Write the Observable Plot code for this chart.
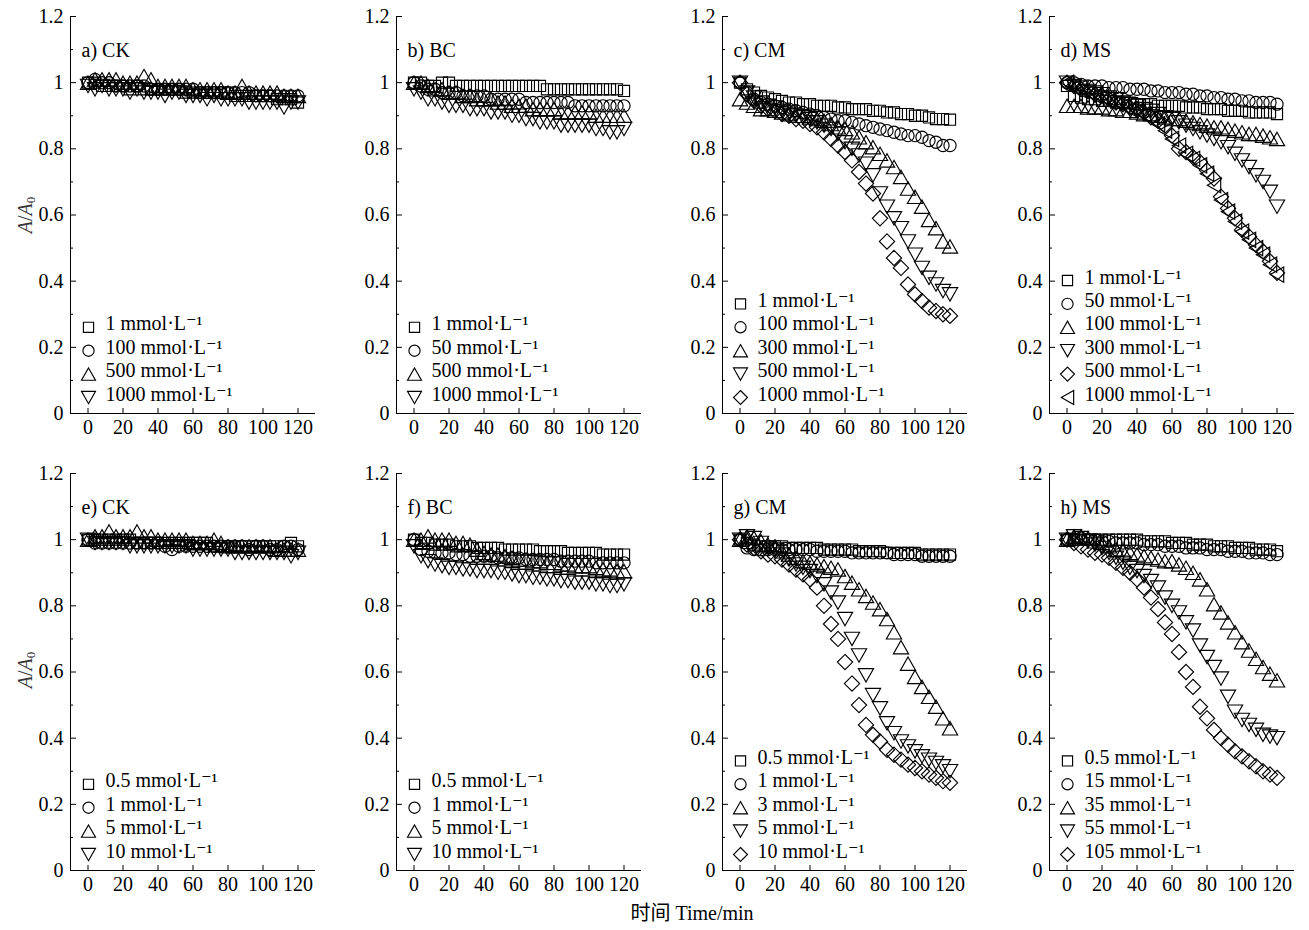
<!DOCTYPE html>
<html>
<head>
<meta charset="utf-8">
<script src="https://cdn.jsdelivr.net/npm/d3@7"></script>
<script src="https://cdn.jsdelivr.net/npm/@observablehq/plot@0.6"></script>
<style>
  body { margin: 0; background: #fff; }
  #fig { position: relative; width: 1309px; height: 930px; background: #fff; color: #000;
         font-family: 'Liberation Serif', 'Noto Sans CJK SC', serif; }
  .ylab { position: absolute; width: 120px; height: 24px; line-height: 24px; text-align: center;
          font-size: 20px; transform: rotate(-90deg); color: #333; white-space: nowrap; }
  .ylab sub { font-size: 13px; font-style: normal; vertical-align: -3px; line-height: 0; }
  .xlab { position: absolute; left: 542px; width: 300px; top: 901px; height: 24px; line-height: 24px;
          text-align: center; font-size: 20px; white-space: nowrap; }
</style>
</head>
<body>
<div id="fig"></div>
<script>
// ---- axes / ticks ----
const time = [0,4,8,12,16,20,24,28,32,36,40,44,48,52,56,60,64,68,72,76,80,84,88,92,96,100,104,108,112,116,120];
const xTicks = [0,20,40,60,80,100,120];
const yTicks = [0,0.2,0.4,0.6,0.8,1,1.2];
const yMinorTicks = [0.1,0.3,0.5,0.7,0.9,1.1];
const xDomain = [-10,130];
const yDomain = [0,1.2];

// ---- a) CK ----
const a1 = [1.00,1.00,0.99,0.99,0.99,0.99,0.98,0.99,0.98,0.98,0.98,0.98,0.98,0.98,0.97,0.97,0.97,0.97,0.97,0.97,0.97,0.96,0.96,0.96,0.96,0.96,0.96,0.95,0.95,0.95,0.94];
const a2 = [1.00,1.01,1.00,1.00,0.99,0.99,0.99,0.99,0.99,0.98,0.98,0.98,0.98,0.98,0.98,0.98,0.97,0.97,0.97,0.97,0.97,0.97,0.97,0.97,0.96,0.96,0.96,0.96,0.96,0.96,0.96];
const a3 = [1.00,1.01,1.01,1.01,1.01,1.00,1.00,1.00,1.02,1.01,0.99,0.99,0.99,0.99,0.99,0.98,0.98,0.98,0.98,0.98,0.97,0.97,0.99,0.97,0.97,0.97,0.97,0.97,0.96,0.96,0.96];
const a4 = [0.99,0.98,0.99,0.98,0.98,0.98,0.97,0.98,0.97,0.97,0.97,0.96,0.97,0.97,0.96,0.96,0.96,0.95,0.96,0.95,0.95,0.95,0.95,0.94,0.94,0.94,0.94,0.94,0.925,0.94,0.94];
// ---- b) BC ----
const b1 = [1.00,1.00,0.99,0.99,1.00,1.00,0.99,0.99,0.99,0.99,0.99,0.99,0.99,0.99,0.99,0.99,0.99,0.99,0.99,0.98,0.98,0.98,0.98,0.98,0.98,0.98,0.98,0.98,0.98,0.98,0.975];
const b2 = [1.00,0.99,0.98,0.98,0.97,0.97,0.97,0.96,0.96,0.96,0.96,0.95,0.95,0.95,0.95,0.95,0.94,0.94,0.94,0.94,0.94,0.94,0.94,0.93,0.93,0.93,0.93,0.93,0.93,0.93,0.93];
const b3 = [1.00,1.00,0.99,0.98,0.98,0.97,0.97,0.96,0.96,0.95,0.95,0.95,0.94,0.94,0.93,0.93,0.93,0.92,0.92,0.92,0.92,0.91,0.91,0.91,0.91,0.91,0.90,0.90,0.90,0.90,0.90];
const b4 = [0.98,0.97,0.95,0.95,0.94,0.93,0.93,0.93,0.92,0.92,0.92,0.91,0.91,0.91,0.90,0.90,0.89,0.89,0.88,0.88,0.88,0.87,0.87,0.87,0.87,0.87,0.86,0.86,0.85,0.85,0.86];
// ---- c) CM ----
const c1 = [1.00,0.98,0.97,0.96,0.955,0.95,0.945,0.94,0.94,0.935,0.935,0.93,0.93,0.93,0.925,0.925,0.92,0.92,0.92,0.915,0.915,0.91,0.91,0.905,0.905,0.90,0.90,0.895,0.89,0.89,0.888];
const c2 = [1.00,0.97,0.95,0.94,0.935,0.93,0.925,0.92,0.915,0.91,0.905,0.90,0.895,0.89,0.885,0.885,0.88,0.875,0.87,0.865,0.86,0.855,0.85,0.845,0.84,0.84,0.835,0.825,0.82,0.81,0.81];
const c3 = [0.95,0.94,0.93,0.92,0.92,0.915,0.91,0.905,0.90,0.90,0.895,0.89,0.885,0.875,0.865,0.86,0.85,0.835,0.82,0.805,0.785,0.765,0.745,0.715,0.68,0.655,0.625,0.585,0.56,0.52,0.505];
const c4 = [1.00,0.97,0.955,0.94,0.93,0.925,0.915,0.91,0.90,0.895,0.89,0.88,0.87,0.86,0.845,0.82,0.80,0.78,0.755,0.72,0.665,0.625,0.59,0.56,0.52,0.48,0.44,0.41,0.39,0.37,0.36];
const c5 = [1.00,0.965,0.945,0.93,0.92,0.915,0.905,0.90,0.89,0.885,0.875,0.865,0.85,0.83,0.81,0.79,0.765,0.73,0.695,0.665,0.59,0.52,0.47,0.44,0.39,0.36,0.34,0.32,0.31,0.30,0.295];
// ---- d) MS ----
const d1 = [0.99,0.96,0.955,0.95,0.95,0.945,0.945,0.94,0.94,0.94,0.935,0.935,0.935,0.93,0.93,0.93,0.93,0.925,0.925,0.925,0.92,0.92,0.92,0.915,0.915,0.915,0.91,0.91,0.91,0.91,0.905];
const d2 = [1.00,1.00,0.995,0.99,0.99,0.99,0.985,0.985,0.985,0.98,0.98,0.98,0.975,0.975,0.97,0.97,0.97,0.965,0.965,0.96,0.96,0.955,0.955,0.95,0.95,0.945,0.945,0.94,0.94,0.94,0.935];
const d3 = [0.93,0.93,0.93,0.925,0.925,0.925,0.92,0.92,0.915,0.915,0.91,0.905,0.905,0.90,0.895,0.89,0.89,0.885,0.88,0.875,0.87,0.865,0.865,0.86,0.855,0.85,0.845,0.845,0.84,0.835,0.83];
const d4 = [1.00,0.99,0.985,0.975,0.97,0.965,0.955,0.95,0.94,0.935,0.93,0.92,0.915,0.905,0.895,0.89,0.88,0.87,0.86,0.85,0.84,0.83,0.82,0.805,0.785,0.765,0.745,0.72,0.70,0.67,0.625];
const d5 = [1.00,0.99,0.98,0.975,0.965,0.96,0.95,0.94,0.935,0.925,0.92,0.91,0.895,0.885,0.87,0.84,0.80,0.79,0.775,0.76,0.735,0.71,0.655,0.62,0.59,0.555,0.535,0.51,0.49,0.46,0.425];
const d6 = [1.00,0.985,0.975,0.97,0.96,0.955,0.945,0.94,0.93,0.92,0.915,0.905,0.89,0.875,0.855,0.83,0.81,0.785,0.77,0.75,0.725,0.69,0.645,0.61,0.58,0.55,0.525,0.50,0.48,0.45,0.42];
// ---- e) CK ----
const e1 = [1.00,1.00,1.00,1.00,1.00,1.00,1.00,0.99,0.99,0.99,0.99,0.99,0.99,0.99,0.99,0.99,0.99,0.99,0.98,0.98,0.98,0.98,0.98,0.98,0.98,0.98,0.98,0.98,0.98,0.99,0.98];
const e2 = [1.00,0.99,0.99,0.99,0.99,0.99,0.99,0.99,0.99,0.99,0.99,0.98,0.97,0.98,0.98,0.98,0.98,0.98,0.98,0.98,0.98,0.98,0.98,0.97,0.98,0.98,0.97,0.97,0.98,0.98,0.97];
const e3 = [1.00,1.01,1.01,1.025,1.01,1.01,1.01,1.025,1.01,1.01,1.00,1.00,1.00,1.00,1.00,0.99,0.99,0.99,1.00,0.99,0.98,0.98,0.98,0.98,0.98,0.98,0.98,0.97,0.97,0.97,0.97];
const e4 = [1.00,0.99,0.99,0.99,0.99,0.99,0.98,0.98,0.98,0.98,0.98,0.98,0.98,0.98,0.98,0.97,0.97,0.97,0.97,0.97,0.97,0.96,0.96,0.96,0.96,0.96,0.96,0.96,0.96,0.95,0.96];
// ---- f) BC ----
const f1 = [1.00,0.99,0.99,0.985,0.985,0.985,0.98,0.98,0.98,0.975,0.975,0.975,0.975,0.97,0.97,0.97,0.97,0.97,0.965,0.965,0.965,0.965,0.96,0.96,0.96,0.96,0.96,0.955,0.955,0.955,0.955];
const f2 = [1.00,0.97,0.965,0.96,0.96,0.96,0.955,0.955,0.95,0.95,0.95,0.95,0.945,0.945,0.945,0.945,0.94,0.94,0.94,0.94,0.94,0.935,0.935,0.935,0.935,0.935,0.93,0.93,0.93,0.93,0.93];
const f3 = [1.00,1.00,1.01,1.00,1.00,1.00,0.99,0.99,0.985,0.97,0.96,0.955,0.955,0.95,0.945,0.94,0.94,0.935,0.935,0.93,0.93,0.925,0.925,0.92,0.92,0.92,0.915,0.91,0.91,0.905,0.905];
const f4 = [0.98,0.95,0.935,0.925,0.92,0.915,0.915,0.91,0.91,0.905,0.905,0.905,0.90,0.90,0.895,0.89,0.89,0.885,0.885,0.88,0.88,0.875,0.875,0.87,0.87,0.87,0.865,0.865,0.86,0.86,0.865];
// ---- g) CM ----
const g1 = [1.00,0.99,0.985,0.98,0.98,0.98,0.98,0.975,0.975,0.975,0.975,0.975,0.97,0.97,0.97,0.97,0.97,0.965,0.965,0.965,0.965,0.96,0.96,0.96,0.96,0.96,0.955,0.955,0.955,0.955,0.955];
const g2 = [1.00,0.975,0.97,0.97,0.97,0.97,0.97,0.97,0.97,0.97,0.97,0.965,0.965,0.965,0.965,0.965,0.96,0.96,0.96,0.96,0.96,0.96,0.955,0.955,0.955,0.955,0.95,0.95,0.95,0.95,0.95];
const g3 = [1.00,1.01,1.005,0.995,0.985,0.98,0.965,0.955,0.945,0.935,0.93,0.925,0.92,0.915,0.91,0.89,0.87,0.85,0.83,0.81,0.79,0.76,0.72,0.675,0.625,0.585,0.555,0.525,0.495,0.46,0.43];
const g4 = [1.00,1.01,1.005,0.99,0.975,0.97,0.955,0.94,0.925,0.915,0.905,0.89,0.865,0.84,0.81,0.76,0.70,0.65,0.59,0.53,0.49,0.445,0.415,0.39,0.375,0.36,0.345,0.335,0.325,0.315,0.30];
const g5 = [1.00,0.985,0.975,0.965,0.955,0.95,0.94,0.925,0.91,0.895,0.88,0.855,0.80,0.745,0.70,0.63,0.565,0.50,0.44,0.41,0.39,0.365,0.35,0.335,0.32,0.31,0.30,0.29,0.28,0.27,0.265];
// ---- h) MS ----
const h1 = [1.00,1.00,1.00,1.00,1.00,1.00,1.00,1.00,1.00,1.00,1.00,0.995,0.995,0.995,0.995,0.99,0.99,0.99,0.985,0.985,0.985,0.98,0.98,0.98,0.975,0.975,0.975,0.97,0.97,0.97,0.965];
const h2 = [1.00,1.00,1.005,1.00,1.00,0.995,0.995,0.99,0.99,0.99,0.99,0.985,0.985,0.985,0.98,0.98,0.98,0.975,0.975,0.975,0.97,0.97,0.97,0.965,0.965,0.965,0.96,0.96,0.96,0.955,0.955];
const h3 = [1.00,1.01,1.01,1.005,0.995,0.99,0.98,0.97,0.965,0.96,0.955,0.95,0.945,0.94,0.935,0.935,0.925,0.915,0.90,0.88,0.85,0.805,0.78,0.75,0.72,0.69,0.665,0.64,0.615,0.595,0.575];
const h4 = [1.00,1.01,1.005,0.995,0.985,0.975,0.96,0.945,0.93,0.915,0.905,0.89,0.875,0.855,0.825,0.80,0.78,0.75,0.725,0.68,0.645,0.615,0.58,0.525,0.48,0.455,0.44,0.425,0.41,0.405,0.40];
const h5 = [1.00,0.99,0.98,0.97,0.96,0.955,0.945,0.93,0.915,0.90,0.88,0.855,0.825,0.79,0.75,0.715,0.66,0.60,0.555,0.495,0.46,0.425,0.40,0.38,0.36,0.345,0.33,0.315,0.30,0.29,0.28];

// ---- titles & legend labels ----
const titles = ["a) CK","b) BC","c) CM","d) MS","e) CK","f) BC","g) CM","h) MS"];
const labelsA = ["1 mmol·L⁻¹","100 mmol·L⁻¹","500 mmol·L⁻¹","1000 mmol·L⁻¹"];
const labelsB = ["1 mmol·L⁻¹","50 mmol·L⁻¹","500 mmol·L⁻¹","1000 mmol·L⁻¹"];
const labelsC = ["1 mmol·L⁻¹","100 mmol·L⁻¹","300 mmol·L⁻¹","500 mmol·L⁻¹","1000 mmol·L⁻¹"];
const labelsD = ["1 mmol·L⁻¹","50 mmol·L⁻¹","100 mmol·L⁻¹","300 mmol·L⁻¹","500 mmol·L⁻¹","1000 mmol·L⁻¹"];
const labelsE = ["0.5 mmol·L⁻¹","1 mmol·L⁻¹","5 mmol·L⁻¹","10 mmol·L⁻¹"];
const labelsF = ["0.5 mmol·L⁻¹","1 mmol·L⁻¹","5 mmol·L⁻¹","10 mmol·L⁻¹"];
const labelsG = ["0.5 mmol·L⁻¹","1 mmol·L⁻¹","3 mmol·L⁻¹","5 mmol·L⁻¹","10 mmol·L⁻¹"];
const labelsH = ["0.5 mmol·L⁻¹","15 mmol·L⁻¹","35 mmol·L⁻¹","55 mmol·L⁻¹","105 mmol·L⁻¹"];

// ---- hollow marker shapes ----
const rad = size => Math.sqrt(size / Math.PI);
const symSquare = { draw(c, s) { const h = rad(s) * 0.91; c.moveTo(-h, -h); c.lineTo(h, -h); c.lineTo(h, h); c.lineTo(-h, h); c.closePath(); } };
const symCircle = { draw(c, s) { const r = rad(s) * 1.0; c.moveTo(r, 0); c.arc(0, 0, r, 0, 2 * Math.PI); c.closePath(); } };
const symTriUp = { draw(c, s) { const r = rad(s), w = r * 1.25, h = r * 1.1; c.moveTo(0, -h); c.lineTo(w, h); c.lineTo(-w, h); c.closePath(); } };
const symTriDown = { draw(c, s) { const r = rad(s), w = r * 1.25, h = r * 1.1; c.moveTo(0, h); c.lineTo(w, -h); c.lineTo(-w, -h); c.closePath(); } };
const symDiamond = { draw(c, s) { const d = rad(s) * 1.25; c.moveTo(0, -d); c.lineTo(d, 0); c.lineTo(0, d); c.lineTo(-d, 0); c.closePath(); } };
const symTriLeft = { draw(c, s) { const r = rad(s), w = r * 1.1, h = r * 1.25; c.moveTo(-w, 0); c.lineTo(w, -h); c.lineTo(w, h); c.closePath(); } };
const symbolOrder = [symSquare, symCircle, symTriUp, symTriDown, symDiamond, symTriLeft];

const panels = [
  { title: titles[0], labels: labelsA, series: [a1, a2, a3, a4] },
  { title: titles[1], labels: labelsB, series: [b1, b2, b3, b4] },
  { title: titles[2], labels: labelsC, series: [c1, c2, c3, c4, c5] },
  { title: titles[3], labels: labelsD, series: [d1, d2, d3, d4, d5, d6] },
  { title: titles[4], labels: labelsE, series: [e1, e2, e3, e4] },
  { title: titles[5], labels: labelsF, series: [f1, f2, f3, f4] },
  { title: titles[6], labels: labelsG, series: [g1, g2, g3, g4, g5] },
  { title: titles[7], labels: labelsH, series: [h1, h2, h3, h4, h5] }
];

const fig = document.getElementById("fig");
const colLeft = [0, 326, 652, 979];
const rowTop = [0, 457];
const W = 326, H = 457, mL = 70, mR = 11, mT = 16, mB = 44;
const fw = W - mL - mR, fh = H - mT - mB;
const R = 6.1;
const SW = 1.15;

panels.forEach((p, i) => {
  const col = i % 4, row = Math.floor(i / 4);
  const n = p.labels.length;
  const marks = [
    Plot.ruleX([xDomain[0]], { stroke: "black", strokeWidth: 1 }),
    Plot.ruleY([yDomain[0]], { stroke: "black", strokeWidth: 1 }),
    Plot.tickY(yTicks, { y: d => d, insetRight: fw - 6, stroke: "black" }),
    Plot.tickY(yMinorTicks, { y: d => d, insetRight: fw - 3, stroke: "black" }),
    Plot.tickX(xTicks, { x: d => d, insetTop: fh - 5, stroke: "black" }),
    ...p.series.map((vals, k) => Plot.dot(vals, {
      x: (d, j) => time[j], y: d => d,
      symbol: symbolOrder[k], r: R, stroke: "black", fill: "none", strokeWidth: SW
    })),
    Plot.text([p.title], { text: d => d, frameAnchor: "top-left", dx: 11, dy: 26, textAnchor: "start", fontSize: 20 }),
    ...p.labels.flatMap((lab, k) => {
      const dy = -(16 + (n - 1 - k) * 23.4);
      return [
        Plot.dot([lab], { frameAnchor: "bottom-left", dx: 18, dy, symbol: symbolOrder[k], r: 5.6, stroke: "black", fill: "none", strokeWidth: SW }),
        Plot.text([lab], { text: d => d, frameAnchor: "bottom-left", dx: 35, dy: dy + 3, textAnchor: "start", fontSize: 20 })
      ];
    })
  ];
  const svg = Plot.plot({
    width: W, height: H,
    marginLeft: mL, marginRight: mR, marginTop: mT, marginBottom: mB,
    x: { domain: xDomain, ticks: xTicks, tickSize: 0, tickPadding: 6, label: null, tickFormat: d => String(d) },
    y: { domain: yDomain, ticks: yTicks, tickSize: 0, tickPadding: 7, label: null, tickFormat: d => String(d) },
    marks
  });
  svg.style.position = "absolute";
  svg.style.left = colLeft[col] + "px";
  svg.style.top = rowTop[row] + "px";
  svg.style.fontFamily = "'Liberation Serif', 'DejaVu Serif', serif";
  svg.style.fontSize = "20px";
  svg.style.color = "black";
  svg.style.background = "transparent";
  svg.style.overflow = "visible";
  svg.style.maxWidth = "none";
  fig.appendChild(svg);
});

// y-axis titles (first column)
[215, 670].forEach(cy => {
  const d = document.createElement("div");
  d.className = "ylab";
  d.style.left = (25 - 60) + "px";
  d.style.top = (cy - 12) + "px";
  d.innerHTML = "<i>A</i>/<i>A</i><sub>0</sub>";
  fig.appendChild(d);
});
// x-axis title
const xl = document.createElement("div");
xl.className = "xlab";
xl.textContent = "时间 Time/min";
fig.appendChild(xl);
</script>
</body>
</html>
